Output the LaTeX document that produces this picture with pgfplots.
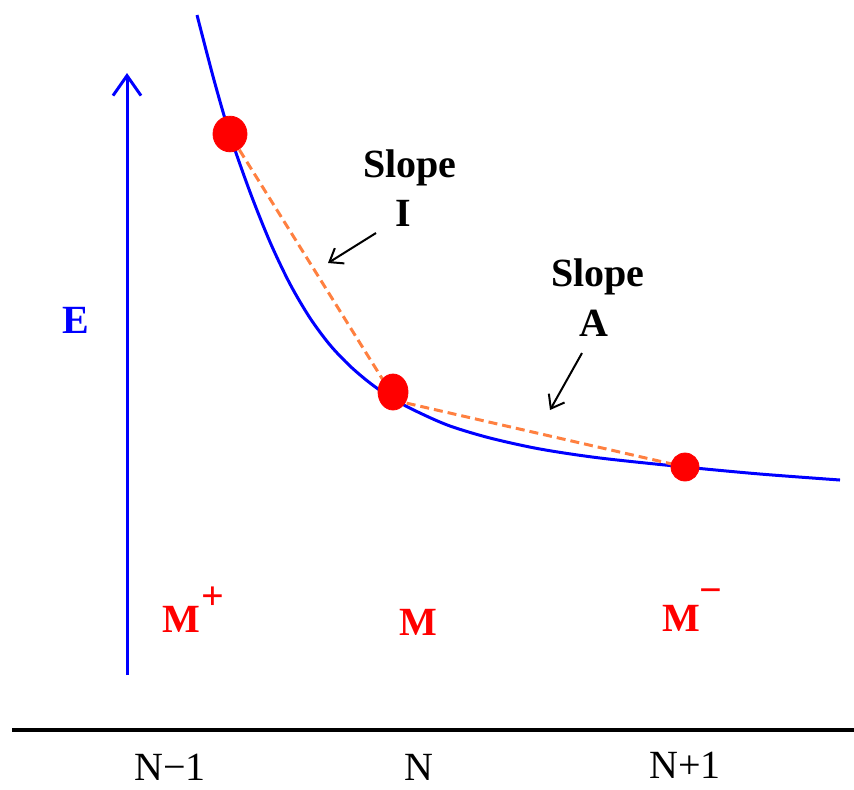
\documentclass[border=0pt]{standalone}
\usepackage{fontspec}
\setmainfont{Liberation Serif}
\usepackage{pgfplots}
\pgfplotsset{compat=1.18}
\usetikzlibrary{arrows.meta}
\definecolor{slopeor}{RGB}{255,128,64}
\newcommand{\bigf}{\fontsize{20}{24}\selectfont}
\begin{document}
\begin{tikzpicture}
\begin{axis}[
  scale only axis, width=427pt, height=394.5pt,
  xmin=0, xmax=854, ymin=0, ymax=789, y dir=reverse,
  hide axis, clip=false
]
% baseline
\addplot[black, line width=1.6pt] coordinates {(12,730) (854,730)};
% energy axis
\addplot[blue, line width=1.5pt, -{Straight Barb[length=10pt,width=14pt,line width=1.5pt]}]
  coordinates {(127,675) (127,73)};
% E(N) curve
\addplot[blue, line width=1.5pt, smooth, tension=0.5] coordinates {
  (197,15) (214,80) (230,135) (250,192) (270,242) (290,284) (310,318)
  (330,345) (350,366) (370,383) (393,399) (420,413) (450,426)
  (490,438) (540,449) (600,458) (685,467) (760,474) (840,480)
};
% chords
\addplot[slopeor, line width=1.5pt, dash pattern=on 4.5pt off 2.5pt] coordinates {(232,138) (393,396)};
\addplot[slopeor, line width=1.5pt, dash pattern=on 4.5pt off 2.5pt] coordinates {(393,400) (685,467)};
% points
\addplot[only marks, mark=*, red, mark size=8.5pt, mark options={yscale=1.05}] coordinates {(230,134)};
\addplot[only marks, mark=*, red, mark size=7.5pt, mark options={yscale=1.2}] coordinates {(393,392)};
\addplot[only marks, mark=*, red, mark size=7pt] coordinates {(685,467)};
% annotation arrows
\addplot[black, line width=1pt, -{Straight Barb[length=6pt,width=9pt]}] coordinates {(376,233) (328,263)};
\addplot[black, line width=1pt, -{Straight Barb[length=6pt,width=9pt]}] coordinates {(582,353) (550,410)};
% texts
\node[font=\bigf\bfseries] at (axis cs:410,168) {Slope};
\node[font=\bigf\bfseries] at (axis cs:403,213) {I};
\node[font=\bigf\bfseries] at (axis cs:598,277) {Slope};
\node[font=\bigf\bfseries] at (axis cs:594,323) {A};
\node[blue, font=\bigf\bfseries] at (axis cs:76,320) {E};
\node[red, font=\bigf\bfseries] at (axis cs:181,619) {M};
\node[red, font=\bigf\bfseries] at (axis cs:213,598) {+};
\node[red, font=\bigf\bfseries] at (axis cs:418,622) {M};
\node[red, font=\bigf\bfseries] at (axis cs:681,618) {M};
\node[red, font=\bigf\bfseries] at (axis cs:711,596) {−};
\node[font=\bigf, anchor=base, inner sep=0pt] at (axis cs:170,780) {N−1};
\node[font=\bigf, anchor=base, inner sep=0pt] at (axis cs:419,780) {N};
\node[font=\bigf, anchor=base, inner sep=0pt] at (axis cs:685,778) {N+1};
\end{axis}
\pgfresetboundingbox
\path (0,0) rectangle (427pt,394.5pt);
\end{tikzpicture}
\end{document}
